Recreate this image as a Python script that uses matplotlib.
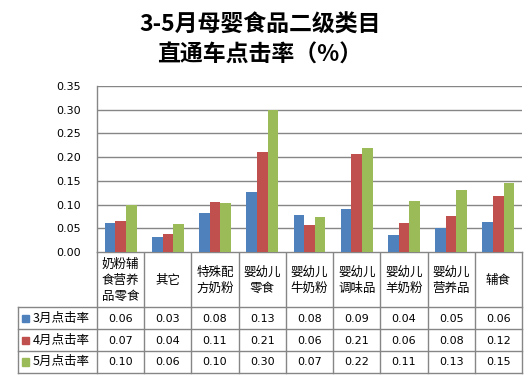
import numpy as np
import matplotlib
matplotlib.use('Agg')
import matplotlib.pyplot as plt
from matplotlib.patches import Rectangle

cats = ['奶粉辅食营养品零食', '其它', '特殊配方奶粉', '婴幼儿零食', '婴幼儿牛奶粉',
        '婴幼儿调味品', '婴幼儿羊奶粉', '婴幼儿营养品', '辅食']
series = ['3月点击率', '4月点击率', '5月点击率']
mar = [0.061, 0.032, 0.082, 0.127, 0.078, 0.090, 0.036, 0.050, 0.063]
apr = [0.065, 0.037, 0.106, 0.210, 0.056, 0.207, 0.061, 0.076, 0.118]
may = [0.100, 0.059, 0.103, 0.300, 0.073, 0.220, 0.107, 0.131, 0.146]
yticks = [0.00, 0.05, 0.10, 0.15, 0.20, 0.25, 0.30, 0.35]
colors = ['#4F81BD', '#C0504D', '#9BBB59']

cjk = ['Noto Sans CJK SC', 'DejaVu Sans']
grid_c = '#868686'
W, H = 528, 378

fig = plt.figure(figsize=(W / 100, H / 100), dpi=100)

# pixel layout of plot area
left, right, top, bottom = 97, 522, 86, 252
ax = fig.add_axes([left / W, 1 - bottom / H, (right - left) / W, (bottom - top) / H])

x = np.arange(len(cats)) + 0.5
bw = 0.225
for k, vals in enumerate([mar, apr, may]):
    ax.bar(x + (k - 1) * bw, vals, width=bw, color=colors[k], zorder=3)

ax.set_xlim(0, len(cats))
ax.set_ylim(0, 0.35)
ax.set_yticks(yticks)
ax.set_yticklabels(['%.2f' % t for t in yticks], fontsize=8)
ax.set_xticks([])
ax.tick_params(axis='y', length=0, pad=11.5)
ax.grid(axis='y', color=grid_c, linewidth=1.0, zorder=0)
for s in ['top', 'right', 'bottom']:
    ax.spines[s].set_visible(False)
ax.spines['left'].set_color(grid_c)
ax.spines['left'].set_linewidth(1.0)

# data table drawn in pixel coordinates
tb = fig.add_axes([0, 0, 1, 1], zorder=-1)
tb.set_xlim(0, W)
tb.set_ylim(H, 0)
tb.axis('off')

tleft = 17.5
rows = [bottom, 307, 329, 351, 372.5]
colw = (right - left) / len(cats)
lw = 1.0
# horizontal lines
tb.plot([left, right], [rows[0], rows[0]], color=grid_c, lw=lw)
for yy in rows[1:]:
    tb.plot([tleft, right], [yy, yy], color=grid_c, lw=lw)
# vertical lines
tb.plot([tleft, tleft], [rows[1], rows[-1]], color=grid_c, lw=lw)
for i in range(len(cats) + 1):
    xx = left + i * colw
    tb.plot([xx, xx], [rows[0], rows[-1]], color=grid_c, lw=lw)

# category labels, wrapped every 3 characters
for i, c in enumerate(cats):
    lab = '\n'.join(c[j:j + 3] for j in range(0, len(c), 3))
    tb.text(left + (i + 0.5) * colw, (rows[0] + rows[1]) / 2 + 1, lab,
            ha='center', va='center', fontsize=9, family=cjk, linespacing=1.3)

# series rows
for k, (name, vals) in enumerate(zip(series, [mar, apr, may])):
    yc = (rows[k + 1] + rows[k + 2]) / 2
    tb.add_patch(Rectangle((22, yc - 3.5), 7.3, 7.3, color=colors[k]))
    tb.text(33, yc, name, ha='left', va='center', fontsize=9, family=cjk)
    for i, v in enumerate(vals):
        tb.text(left + (i + 0.5) * colw, yc + 0.5, '%.2f' % v,
                ha='center', va='center', fontsize=8)

fig.text(260 / W, 1 - 25 / H, '3-5月母婴食品二级类目', ha='center', va='center',
         fontsize=16.5, fontweight='bold', family=cjk)
fig.text(260 / W, 1 - 55 / H, '直通车点击率（%）', ha='center', va='center',
         fontsize=16.5, fontweight='bold', family=cjk)

fig.savefig('out.png', dpi=100)
